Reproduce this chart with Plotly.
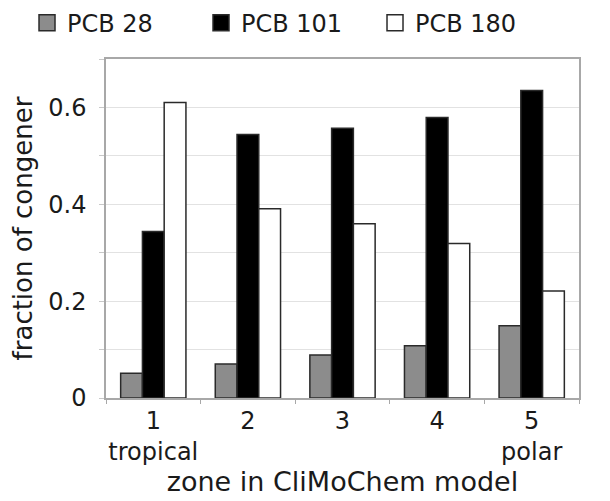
import plotly.graph_objects as go

zones = ["1<br>tropical", "2", "3", "4", "5<br>polar"]
pcb28 = [0.051, 0.070, 0.089, 0.108, 0.149]
pcb101 = [0.344, 0.544, 0.557, 0.579, 0.635]
pcb180 = [0.610, 0.391, 0.360, 0.319, 0.221]

FONT = "DejaVu Sans"
EDGE = "#2a2a2a"
series = [
    ("PCB 28", pcb28, "#8c8c8c"),
    ("PCB 101", pcb101, "#000000"),
    ("PCB 180", pcb180, "#ffffff"),
]

fig = go.Figure()
for name, vals, color in series:
    fig.add_trace(go.Bar(
        x=zones, y=vals, name=name, showlegend=False,
        marker=dict(color=color, line=dict(color=EDGE, width=1.5)),
    ))
# legend entries with bigger square swatches
for name, vals, color in series:
    fig.add_trace(go.Scatter(
        x=[None], y=[None], mode="markers", name=name,
        marker=dict(symbol="square", size=16, color=color,
                    line=dict(color=EDGE, width=1.5)),
    ))

# page body adds an 8px offset, so the figure is a bit smaller than the window
fig.update_layout(
    width=602, height=493,
    margin=dict(l=98, r=31, t=51, b=103, autoexpand=False),
    paper_bgcolor="white", plot_bgcolor="white",
    barmode="group", bargap=0.31, bargroupgap=0,
    font=dict(family=FONT, size=24, color="#1a1a1a"),
    showlegend=True,
    legend=dict(
        orientation="h", xref="paper", yref="paper",
        x=-0.167, y=1.172, xanchor="left", yanchor="top",
        font=dict(size=24), itemwidth=30, itemsizing="trace",
        entrywidth=129,
    ),
)

fig.update_xaxes(
    type="category", tickangle=0,
    showline=True, linecolor="#a8a8a8", linewidth=1.5, mirror=True,
    tickson="boundaries", ticks="outside", ticklen=4, tickcolor="#a8a8a8",
    title=dict(text="zone in CliMoChem model", font=dict(size=27), standoff=6),
    tickfont=dict(size=24),
)
fig.update_yaxes(
    range=[0, 0.7],
    tickvals=[0, 0.2, 0.4, 0.6], ticktext=["0", "0.2", "0.4", "0.6"],
    showgrid=True, gridcolor="#e2e2e2", gridwidth=1.2,
    showline=True, linecolor="#a8a8a8", linewidth=1.5, mirror=True,
    ticks="outside", ticklen=5, tickcolor="#c8c8c8",
    minor=dict(dtick=0.1, showgrid=True, gridcolor="#e2e2e2", ticks="outside",
               ticklen=5, tickcolor="#c8c8c8"),
    zeroline=False, ticklabelstandoff=8,
    title=dict(text="fraction of congener", font=dict(size=26), standoff=8),
    tickfont=dict(size=24),
)

fig.write_html("out.html")
